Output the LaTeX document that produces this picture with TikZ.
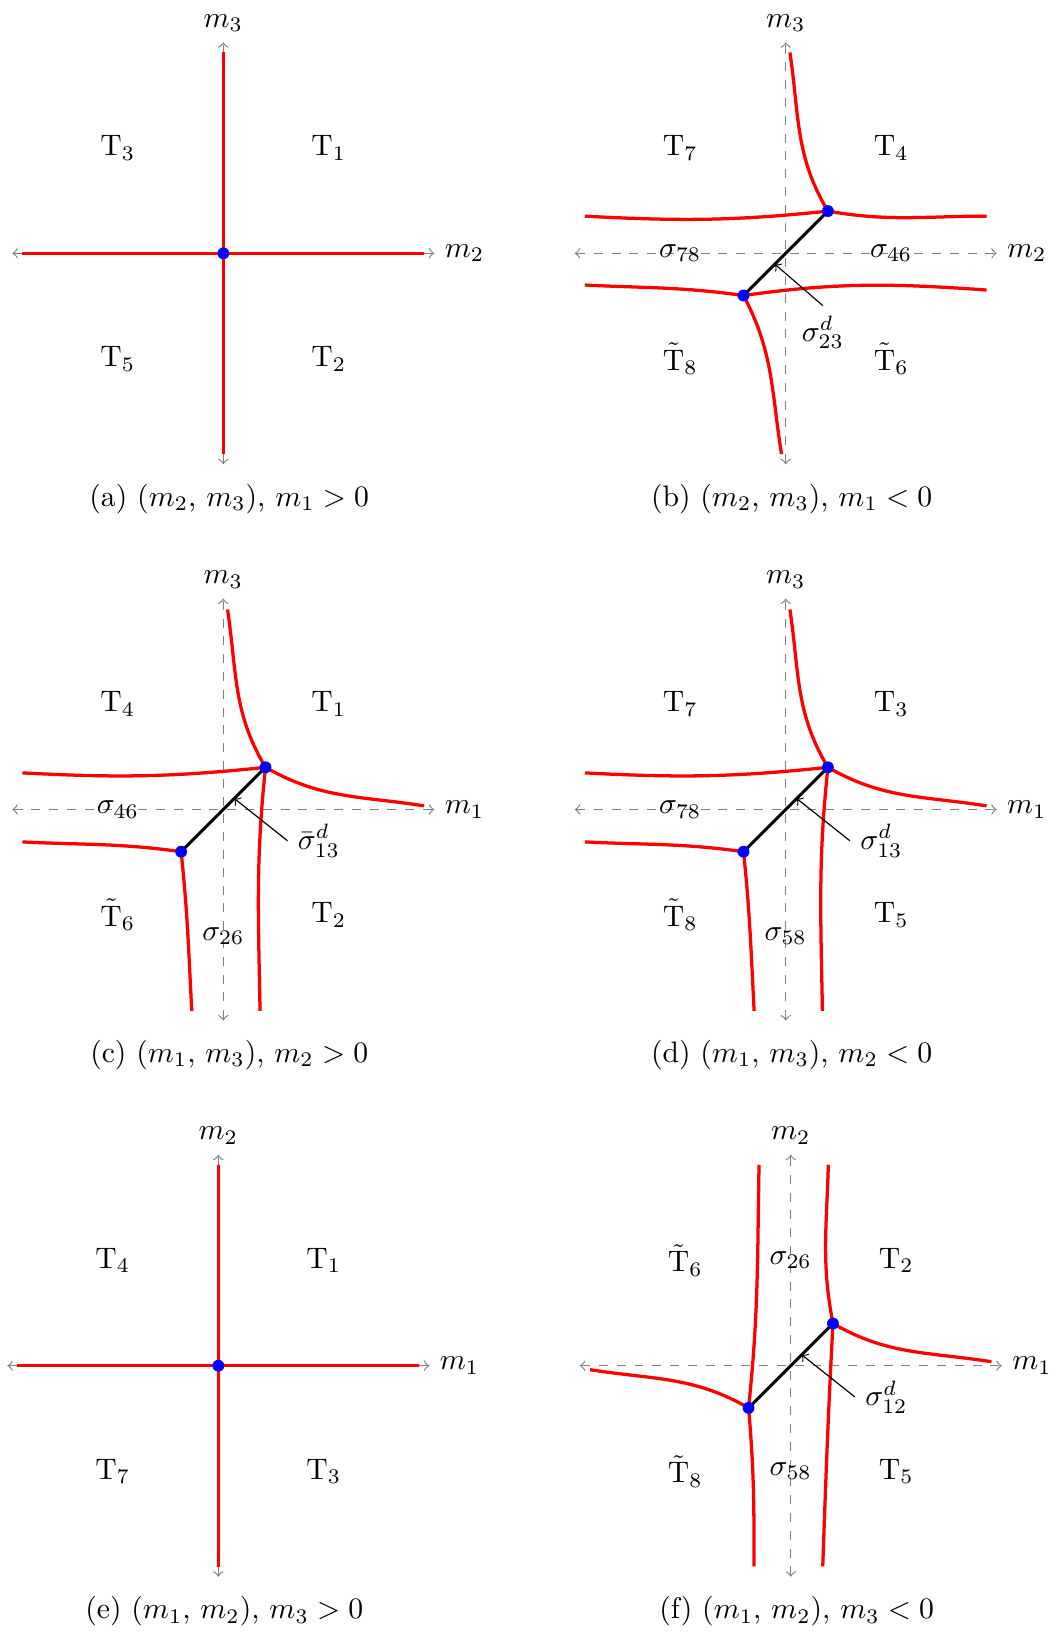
\documentclass[tikz,border=0pt]{standalone}
\usepackage{amsmath}
\usepackage{amssymb}
\usetikzlibrary{calc}

\tikzset{
    maxis/.style={gray, dashed, <->},
    mlabel/.style={black},
    wall/.style={red, line width=1.1pt},
    link/.style={black, line width=1pt},
    note/.style={->, black},
    vac/.style={blue}
}

\begin{document}
\begin{tikzpicture}
        \useasboundingbox (-2.646,-16.335) rectangle (9.890,3.001);

        % (a) m1 > 0
        \begin{scope}
            \coordinate (aO) at (0,0);
            \draw[maxis] (-2.5,0) -- (2.5,0) node[mlabel, right] (aX) {$m_2$};
            \draw[maxis] (0,-2.5) -- (0,2.5) node[mlabel, above] (aY) {$m_3$};
            % Walls
            \draw[wall] (-2.38,0) -- (2.38,0);
            \draw[wall] (0,-2.38) -- (0,2.38);
            \fill[vac] (aO) circle (2pt);
            % Phases
            \node (aT3) at (-1.25,1.25) {$\mathrm{T}_3$};
            \node (aT1) at (1.25,1.25) {$\mathrm{T}_1$};
            \node (aT5) at (-1.25,-1.25) {$\mathrm{T}_5$};
            \node (aT2) at (1.25,-1.25) {$\mathrm{T}_2$};
            \node (aCap) at (0.07,-2.91) {(a) $(m_2$, $m_3)$, $m_1>0$};
        \end{scope}

        % (b) m1 < 0
        \begin{scope}[shift={(6.663,0)}]
            \draw[maxis] (-2.5,0) -- (2.5,0) node[mlabel, right] (bX) {$m_2$};
            \draw[maxis] (0,-2.5) -- (0,2.5) node[mlabel, above] (bY) {$m_3$};
            \coordinate (bP) at (0.5,0.5);
            \coordinate (bQ) at (-0.5,-0.5);
            % Walls
            \draw[wall] (bP) to[out=186,in=-3] (-2.38,0.44);
            \draw[wall] (bP) to[out=-10,in=180] (2.38,0.44);
            \draw[wall] (bP) to[out=121,in=-81.5] (0.05,2.38);
            \draw[wall] (bQ) to[out=172,in=-2.8] (-2.38,-0.376);
            \draw[wall] (bQ) to[out=8,in=176] (2.38,-0.435);
            \draw[wall] (bQ) to[out=-62,in=99] (-0.05,-2.38);
            \draw[link] (bQ) -- (bP);
            \fill[vac] (bP) circle (2pt) (bQ) circle (2pt);
            % Phases
            \node (bT7) at (-1.25,1.25) {$\mathrm{T}_7$};
            \node (bT4) at (1.25,1.25) {$\mathrm{T}_4$};
            \node (bT8) at (-1.25,-1.25) {$\tilde{\mathrm{T}}_8$};
            \node (bT6) at (1.25,-1.25) {$\tilde{\mathrm{T}}_6$};
            \node (bS78) at (-1.25,0) {$\sigma_{78}$};
            \node (bS46) at (1.25,0) {$\sigma_{46}$};
            % Dual wall
            \coordinate (bM) at (-0.127,-0.13);
            \node[below] (bD) at (0.44,-0.62) {$\sigma^d_{23}$};
            \draw[note] (bD.north) -- (bM);
            \node (bCap) at (0.07,-2.91) {(b) $(m_2$, $m_3)$, $m_1<0$};
        \end{scope}

        % (c) m2 > 0
        \begin{scope}[shift={(0,-6.59)}]
            \draw[maxis] (-2.5,0) -- (2.5,0) node[mlabel, right] (cX) {$m_1$};
            \draw[maxis] (0,-2.5) -- (0,2.5) node[mlabel, above] (cY) {$m_3$};
            \coordinate (cP) at (0.5,0.5);
            \coordinate (cQ) at (-0.5,-0.5);
            % Walls
            \draw[wall] (cP) to[out=186,in=-3] (-2.38,0.434);
            \draw[wall] (cP) to[out=121,in=-81.5] (0.05,2.37);
            \draw[wall] (cP) to[out=-30,in=171] (2.38,0.043);
            \draw[wall] (cP) to[out=-96,in=91] (0.435,-2.386);
            \draw[wall] (cQ) to[out=172,in=-2.8] (-2.38,-0.384);
            \draw[wall] (cQ) to[out=-84,in=93] (-0.374,-2.386);
            \draw[link] (cQ) -- (cP);
            \fill[vac] (cP) circle (2pt) (cQ) circle (2pt);
            % Phases
            \node (cT4) at (-1.25,1.25) {$\mathrm{T}_4$};
            \node (cT1) at (1.25,1.25) {$\mathrm{T}_1$};
            \node (cT6) at (-1.25,-1.25) {$\tilde{\mathrm{T}}_6$};
            \node (cT2) at (1.25,-1.25) {$\mathrm{T}_2$};
            \node (cS46) at (-1.25,0) {$\sigma_{46}$};
            \node (cS26) at (0,-1.5) {$\sigma_{26}$};
            % Dual wall
            \coordinate (cM) at (0.13,0.13);
            \node[right] (cD) at (0.76,-0.37) {$\bar{\sigma}^d_{13}$};
            \draw[note] (cD.west) -- (cM);
            \node (cCap) at (0.07,-2.91) {(c) $(m_1$, $m_3)$, $m_2>0$};
        \end{scope}

        % (d) m2 < 0
        \begin{scope}[shift={(6.663,-6.59)}]
            \draw[maxis] (-2.5,0) -- (2.5,0) node[mlabel, right] (dX) {$m_1$};
            \draw[maxis] (0,-2.5) -- (0,2.5) node[mlabel, above] (dY) {$m_3$};
            \coordinate (dP) at (0.5,0.5);
            \coordinate (dQ) at (-0.5,-0.5);
            % Walls
            \draw[wall] (dP) to[out=186,in=-3] (-2.38,0.434);
            \draw[wall] (dP) to[out=121,in=-81.5] (0.05,2.37);
            \draw[wall] (dP) to[out=-30,in=171] (2.38,0.043);
            \draw[wall] (dP) to[out=-96,in=91] (0.435,-2.386);
            \draw[wall] (dQ) to[out=172,in=-2.8] (-2.38,-0.384);
            \draw[wall] (dQ) to[out=-84,in=93] (-0.374,-2.386);
            \draw[link] (dQ) -- (dP);
            \fill[vac] (dP) circle (2pt) (dQ) circle (2pt);
            % Phases
            \node (dT7) at (-1.25,1.25) {$\mathrm{T}_7$};
            \node (dT3) at (1.25,1.25) {$\mathrm{T}_3$};
            \node (dT8) at (-1.25,-1.25) {$\tilde{\mathrm{T}}_8$};
            \node (dT5) at (1.25,-1.25) {$\mathrm{T}_5$};
            \node (dS78) at (-1.25,0) {$\sigma_{78}$};
            \node (dS58) at (0,-1.5) {$\sigma_{58}$};
            % Dual wall
            \coordinate (dM) at (0.13,0.13);
            \node[right] (dD) at (0.76,-0.37) {$\sigma^d_{13}$};
            \draw[note] (dD.west) -- (dM);
            \node (dCap) at (0.07,-2.91) {(d) $(m_1$, $m_3)$, $m_2<0$};
        \end{scope}

        % (e) m3 > 0
        \begin{scope}[shift={(-0.059,-13.18)}]
            \coordinate (eO) at (0,0);
            \draw[maxis] (-2.5,0) -- (2.5,0) node[mlabel, right] (eX) {$m_1$};
            \draw[maxis] (0,-2.5) -- (0,2.5) node[mlabel, above] (eY) {$m_2$};
            % Walls
            \draw[wall] (-2.38,0) -- (2.38,0);
            \draw[wall] (0,-2.38) -- (0,2.38);
            \fill[vac] (eO) circle (2pt);
            % Phases
            \node (eT4) at (-1.25,1.25) {$\mathrm{T}_4$};
            \node (eT1) at (1.25,1.25) {$\mathrm{T}_1$};
            \node (eT7) at (-1.25,-1.25) {$\mathrm{T}_7$};
            \node (eT3) at (1.25,-1.25) {$\mathrm{T}_3$};
            \node (eCap) at (0.07,-2.91) {(e) $(m_1$, $m_2)$, $m_3>0$};
        \end{scope}

        % (f) m3 < 0
        \begin{scope}[shift={(6.723,-13.18)}]
            \draw[maxis] (-2.5,0) -- (2.5,0) node[mlabel, right] (fX) {$m_1$};
            \draw[maxis] (0,-2.5) -- (0,2.5) node[mlabel, above] (fY) {$m_2$};
            \coordinate (fP) at (0.5,0.5);
            \coordinate (fQ) at (-0.5,-0.5);
            % Walls
            \draw[wall] (fQ) to[out=84,in=-91] (-0.376,2.381);
            \draw[wall] (fQ) to[out=-85,in=90] (-0.435,-2.378);
            \draw[wall] (fQ) to[out=150,in=-9] (-2.378,-0.047);
            \draw[wall] (fP) to[out=101,in=-91.5] (0.445,2.381);
            \draw[wall] (fP) to[out=-93,in=88] (0.379,-2.378);
            \draw[wall] (fP) to[out=-30,in=171] (2.378,0.047);
            \draw[link] (fQ) -- (fP);
            \fill[vac] (fP) circle (2pt) (fQ) circle (2pt);
            % Phases
            \node (fT6) at (-1.25,1.25) {$\tilde{\mathrm{T}}_6$};
            \node (fT2) at (1.25,1.25) {$\mathrm{T}_2$};
            \node (fT8) at (-1.25,-1.25) {$\tilde{\mathrm{T}}_8$};
            \node (fT5) at (1.25,-1.25) {$\mathrm{T}_5$};
            \node (fS26) at (0,1.25) {$\sigma_{26}$};
            \node (fS58) at (0,-1.25) {$\sigma_{58}$};
            % Dual wall
            \coordinate (fM) at (0.13,0.13);
            \node[right] (fD) at (0.76,-0.37) {$\sigma^d_{12}$};
            \draw[note] (fD.west) -- (fM);
            \node (fCap) at (0.07,-2.91) {(f) $(m_1$, $m_2)$, $m_3<0$};
        \end{scope}
    \end{tikzpicture}
\end{document}
